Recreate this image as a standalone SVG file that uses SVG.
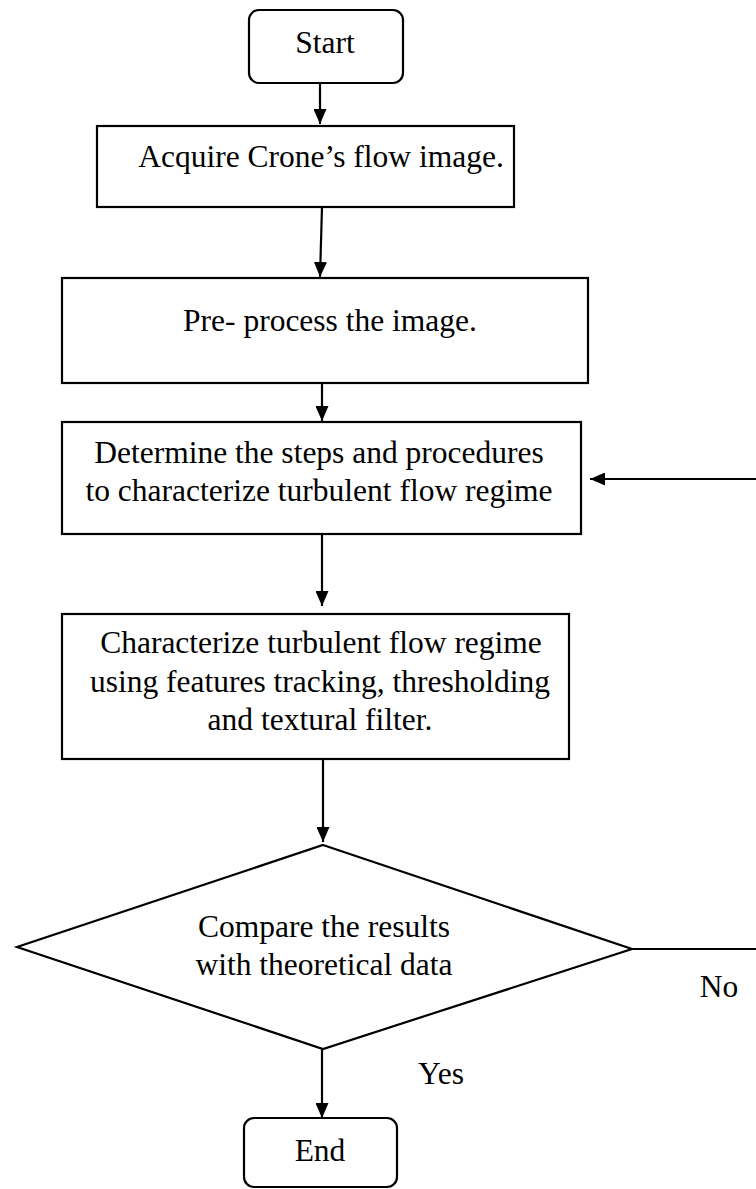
<svg xmlns="http://www.w3.org/2000/svg" width="756" height="1189" viewBox="0 0 756 1189">
<defs>
<style>
.box{fill:#fff;stroke:#000;stroke-width:2.2}
.t{font-family:"Liberation Serif","Times New Roman",serif;font-size:31.5px;fill:#000;text-anchor:middle}
.c{stroke:#000;stroke-width:2.2;fill:none}
</style>
<marker id="ah" viewBox="0 0 15 13" refX="15" refY="6.5" markerWidth="15" markerHeight="13" markerUnits="userSpaceOnUse" orient="auto">
<path d="M0,0 L15,6.5 L0,13 Z" fill="#000"/>
</marker>
</defs>
<rect width="756" height="1189" fill="#fff"/>
<g id="connectors">
<line class="c" x1="320" y1="83" x2="320" y2="124" marker-end="url(#ah)"/>
<line class="c" x1="322" y1="207" x2="320" y2="277" marker-end="url(#ah)"/>
<line class="c" x1="322" y1="383" x2="322" y2="421" marker-end="url(#ah)"/>
<line class="c" x1="322" y1="534" x2="322" y2="606" marker-end="url(#ah)"/>
<line class="c" x1="323" y1="759" x2="323" y2="842" marker-end="url(#ah)"/>
<line class="c" x1="322" y1="1049" x2="322" y2="1118" marker-end="url(#ah)"/>
<line class="c" x1="632" y1="949" x2="757" y2="949"/>
<line class="c" x1="757" y1="479" x2="590" y2="479" marker-end="url(#ah)"/>
<text class="t" x="719" y="997">No</text>
<text class="t" x="441" y="1084">Yes</text>
</g>
<g id="start">
<rect class="box" x="249" y="10" width="154" height="73" rx="10"/>
<text class="t" x="325" y="53">Start</text>
</g>
<g id="acquire">
<rect class="box" x="97" y="126" width="417" height="81"/>
<text class="t" x="321" y="167">Acquire Crone’s flow image.</text>
</g>
<g id="preprocess">
<rect class="box" x="62" y="278" width="526" height="105"/>
<text class="t" x="330" y="331">Pre- process the image.</text>
</g>
<g id="determine">
<rect class="box" x="62" y="422" width="519" height="112"/>
<text class="t" x="319" y="463">Determine the steps and procedures</text>
<text class="t" x="319" y="501">to characterize turbulent flow regime</text>
</g>
<g id="characterize">
<rect class="box" x="62" y="614" width="507" height="145"/>
<text class="t" x="321" y="653">Characterize turbulent flow regime</text>
<text class="t" x="320" y="692">using features tracking, thresholding</text>
<text class="t" x="320" y="730">and textural filter.</text>
</g>
<g id="compare">
<polygon class="box" points="323,845 632,949 323,1049 17,947"/>
<text class="t" x="324" y="937">Compare the results</text>
<text class="t" x="324" y="975">with theoretical data</text>
</g>
<g id="end">
<rect class="box" x="244" y="1118" width="153" height="69" rx="10"/>
<text class="t" x="320" y="1161">End</text>
</g>
</svg>
